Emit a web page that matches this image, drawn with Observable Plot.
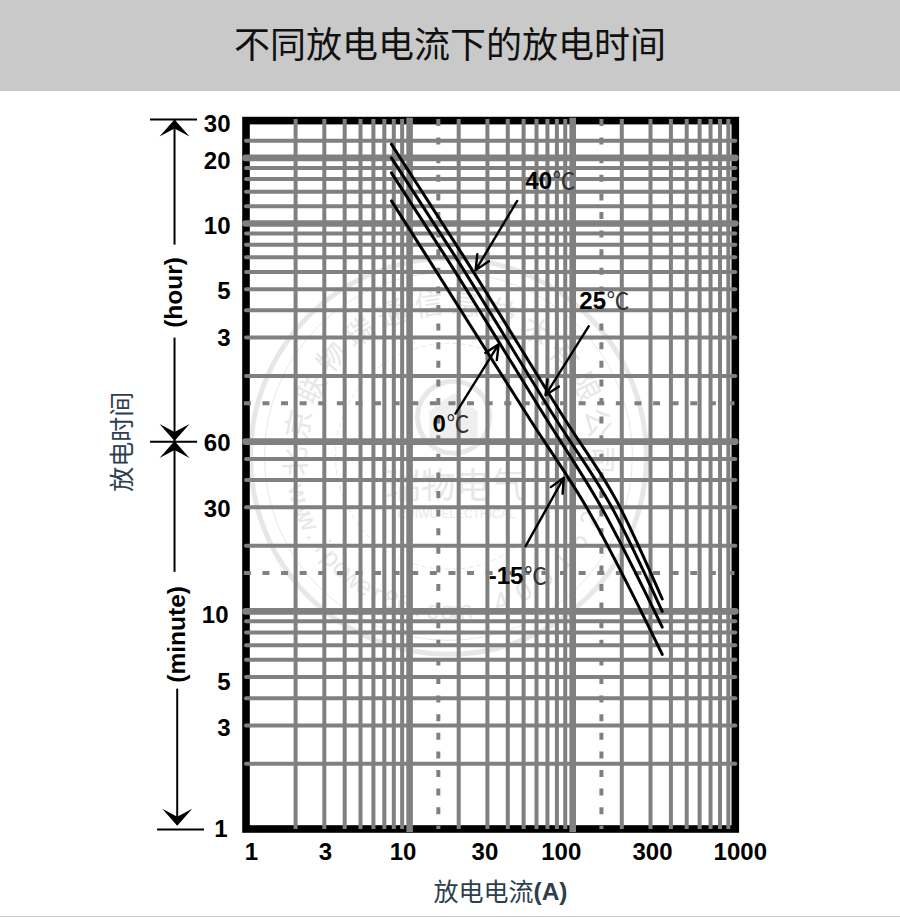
<!DOCTYPE html>
<html lang="zh">
<head>
<meta charset="utf-8">
<script src="https://cdn.jsdelivr.net/npm/d3@7"></script>
<script src="https://cdn.jsdelivr.net/npm/@observablehq/plot@0.6"></script>
<style>
  html,body{margin:0;padding:0;background:#fff;width:900px;height:917px;overflow:hidden}
  #head{height:91px;background:#c9c9c9;display:flex;align-items:center;justify-content:center;
        font:36px "Noto Sans CJK SC",sans-serif;color:#111;box-sizing:border-box;padding-bottom:8px}
  #chart svg{display:block}
  #foot{height:1px;background:#c9c9c9}
</style>
</head>
<body>
<div id="head">不同放电电流下的放电时间</div>
<div id="chart"></div>
<div id="foot"></div>
<script>
// ---- Data (current in A, time in minutes) ----
const xMajor = [10, 100];
const xMinor = [2,3,4,5,6,7,8,9,20,30,40,50,60,70,80,90,200,300,400,500,600,700,800,900];
const xDashed = [15, 150];
const yMajor = [1200, 600, 60, 10];
const yMinor = [1440,1080,960,840,720,540,480,420,360,300,240,180,120,50,40,30,20,9,8,7,6,5,4,3,2];
const yDashed = [90, 15];

const xTickValues = [1, 3, 10, 30, 100, 300, 1000];
const yTickValues = [1800, 1200, 600, 300, 180, 60, 30, 10, 5, 3, 1];
const yTickLabels = ["30","20","10","5","3","60","30","10","5","3","1"];

const amps40 = [7.74, 21.2, 90.3, 188, 354];
const mins40 = [1387, 430, 75.2, 31.6, 11.4];
const amps25 = [7.74, 18.8, 79.6, 175, 354];
const mins25 = [1200, 430, 75.2, 29.7, 10];
const amps0 = [7.74, 16.4, 69.8, 149.5, 354];
const mins0 = [1025, 430, 75.2, 30.1, 8.47];
const ampsM15 = [7.74, 12.6, 55.1, 121.5, 354];
const minsM15 = [762, 430, 75.2, 30, 6.35];

const calloutNames = ["40", "25", "0", "-15"];
const calloutAmps = [74.7, 160, 16.7, 49.9];
const calloutMins = [938, 264, 72.1, 14.5];
const arrowFromAmps = [45.7, 125.5, 19.1, 51.4];
const arrowFromMins = [762, 203, 80.7, 19.9];
const arrowToAmps = [25.4, 68.1, 35.2, 88.2];
const arrowToMins = [367, 98, 168, 41];

const sealName = "北京联物瑞通信息技术有限公司";
const sealUrl = "www.ipower86.com";
const sealPhone = "400162";
const sealBrand = "瑞物电气";
const sealBrandEn = "RUIWU ELECTRICAL";

// ---- Layout helpers (not data) ----
const xTickNudge = [5, 1, -6.5, -2.5, -11.5, 2, 4.5];
const yTickNudge = [5, 3, 2.6, 2, 0.5, 2, 2, 4, 5, 3, 0];
const yTickRight = [0,0,0,0,0,0,0,-2,0,0,-3];
const SANS = '"Liberation Sans",Arial,sans-serif';
const CJK = '"Noto Sans CJK SC",sans-serif';
const SERIF = '"Liberation Serif","Noto Sans CJK SC",serif';
const GREY = "#808080";
const WM = "#e7e7e7";
const axisColX = 0.362, axisColXLow = 0.376;     // x values of the left double-arrow column
const tickLabelX = 0.798;                         // x value of the right edge of y tick labels

const headUp = {draw(c){c.moveTo(0,0);c.lineTo(15,17);c.lineTo(0,9);c.lineTo(-15,17);c.closePath();}};
const headDown = {draw(c){c.moveTo(0,0);c.lineTo(15,-17);c.lineTo(0,-9);c.lineTo(-15,-17);c.closePath();}};
const house = {draw(c){c.moveTo(0,-24);c.lineTo(24,-6);c.lineTo(24,22);c.lineTo(-24,22);c.lineTo(-24,-6);c.closePath();}};

const seriesOf = (a, m) => a.map((v, i) => ({a: v, m: m[i]}));
const one = [0];

const sealCentre = {a: 17.3, m: 51.4};
const logoCentre = {a: 18.6, m: 77.6};
const wm = [];
// rings
wm.push(Plot.dot([sealCentre],{x:"a",y:"m",r:198,stroke:WM,strokeWidth:5,fill:"none"}));
wm.push(Plot.dot([sealCentre],{x:"a",y:"m",r:184,stroke:WM,strokeWidth:1,fill:"none"}));
wm.push(Plot.dot([sealCentre],{x:"a",y:"m",r:113,stroke:WM,strokeWidth:1,fill:"none",strokeDasharray:"5,3"}));
wm.push(Plot.dot([logoCentre],{x:"a",y:"m",r:36,stroke:WM,strokeWidth:5,fill:"none"}));
wm.push(Plot.dot([logoCentre],{x:"a",y:"m",r:1,symbol:house,fill:"#efefef",stroke:"none"}));
// arc of the company name
Array.from(sealName).forEach((ch,i)=>{
  const t = -92 + i*14.1, r = 152, rad = t*Math.PI/180;
  wm.push(Plot.text([ch],{x:()=>sealCentre.a,y:()=>sealCentre.m,text:d=>d,dx:r*Math.sin(rad),dy:-r*Math.cos(rad),
    rotate:t,fontSize:29,fontFamily:CJK,fill:WM}));
});
// arc of web address (reads along the bottom, left to right)
Array.from(sealUrl).forEach((ch,i)=>{
  const t = 76 - i*5.4, r = 155, rad = t*Math.PI/180;
  wm.push(Plot.text([ch],{x:()=>sealCentre.a,y:()=>sealCentre.m,text:d=>d,dx:-r*Math.sin(rad),dy:r*Math.cos(rad),
    rotate:t,fontSize:26,fontFamily:SANS,fill:WM}));
});
Array.from(sealPhone).forEach((ch,i)=>{
  const t = -20 - i*9.2, r = 155, rad = t*Math.PI/180;
  wm.push(Plot.text([ch],{x:()=>sealCentre.a,y:()=>sealCentre.m,text:d=>d,dx:-r*Math.sin(rad),dy:r*Math.cos(rad),
    rotate:t,fontSize:26,fontFamily:SANS,fill:WM}));
});
wm.push(Plot.text([sealBrand],{x:()=>sealCentre.a,y:()=>sealCentre.m,text:d=>d,dx:7,dy:30,fontSize:35,fontFamily:CJK,fill:WM}));
wm.push(Plot.text([sealBrandEn],{x:()=>sealCentre.a,y:()=>sealCentre.m,text:d=>d,dx:8,dy:58,fontSize:12,fontFamily:SANS,fill:WM,letterSpacing:"2.3px"}));

const curves = [[amps40,mins40],[amps25,mins25],[amps0,mins0],[ampsM15,minsM15]];
const callouts = calloutNames.map((n,i)=>({n,a:calloutAmps[i],m:calloutMins[i],
  a1:arrowFromAmps[i],m1:arrowFromMins[i],a2:arrowToAmps[i],m2:arrowToMins[i]}));

const plot = Plot.plot({
  width: 900,
  height: 825,
  margin: 0,
  style: {background: "transparent"},
  x: {type: "log", domain: [1, 1000], range: [246, 735.3], axis: null},
  y: {type: "log", domain: [1, 1800], range: [738, 28], axis: null},
  marks: [
    ...wm,
    // black frame
    Plot.rect(one,{x1:()=>1,x2:()=>1000,y1:()=>1,y2:()=>1770,fill:"none",stroke:"#000",strokeWidth:7.6}),
    // grid
    Plot.ruleX(xMinor,{x:d=>d,y1:()=>1,y2:()=>1800,stroke:GREY,strokeWidth:4}),
    Plot.ruleY(yMinor,{y:d=>d,x1:()=>1,x2:()=>1000,stroke:GREY,strokeWidth:4,strokeLinecap:"round"}),
    Plot.ruleX(xDashed,{x:d=>d,y1:()=>1800,y2:()=>1,stroke:GREY,strokeWidth:4,strokeDasharray:"7,11.6"}),
    Plot.ruleY(yDashed,{y:d=>d,x1:()=>0.97,x2:()=>1000,stroke:GREY,strokeWidth:4,strokeDasharray:"7,11.6"}),
    Plot.ruleX(xMajor,{x:d=>d,y1:()=>0.97,y2:()=>1826,stroke:GREY,strokeWidth:6.6}),
    Plot.ruleY(yMajor,{y:d=>d,x1:()=>0.993,x2:()=>1000,stroke:GREY,strokeWidth:6.6,strokeLinecap:"round"}),
    // curves
    ...curves.map(([a,m])=>Plot.line(seriesOf(a,m),{x:"a",y:"m",curve:"monotone-x",stroke:"#000",strokeWidth:3,strokeLinecap:"round"})),
    // callout arrows
    Plot.arrow(callouts,{x1:"a1",y1:"m1",x2:"a2",y2:"m2",stroke:"#000",strokeWidth:2.4,headLength:10,headAngle:50}),
    Plot.text(callouts,{x:"a",y:"m",text:"n",textAnchor:"end",fontFamily:SANS,fontWeight:"bold",fontSize:24,fill:"#000"}),
    Plot.text(callouts,{x:"a",y:"m",text:()=>"℃",textAnchor:"start",fontFamily:SERIF,fontSize:23,fill:"#333",dx:0.5}),
    // tick labels
    ...xTickValues.map((v,i)=>Plot.text([v],{x:d=>d,y:()=>1,text:d=>String(d),dx:xTickNudge[i],dy:23,
      fontFamily:SANS,fontWeight:"bold",fontSize:24,fill:"#000"})),
    ...yTickValues.map((v,i)=>Plot.text([v],{x:()=>tickLabelX,y:d=>d,text:()=>yTickLabels[i],dy:yTickNudge[i],dx:yTickRight[i],
      textAnchor:"end",fontFamily:SANS,fontWeight:"bold",fontSize:24,fill:"#000"})),
    // axis titles
    Plot.text(["放电电流"],{x:()=>57.5,y:()=>1,text:d=>d,dy:63,textAnchor:"end",fontFamily:CJK,fontSize:25,fill:"#2d3e4c"}),
    Plot.text(["(A)"],{x:()=>57.5,y:()=>1,text:d=>d,dy:63,textAnchor:"start",fontFamily:SANS,fontWeight:"bold",fontSize:24.5,fill:"#2d3e4c"}),
    Plot.text(["放电时间"],{x:()=>0.174,y:()=>60,text:d=>d,rotate:-90,fontFamily:CJK,fontSize:25,fill:"#2d3e4c"}),
    // double-arrow bracket
    Plot.ruleY([1800,60],{y:d=>d,x1:()=>0.258,x2:()=>0.501,stroke:"#000",strokeWidth:2}),
    Plot.ruleY([1],{y:d=>d,x1:()=>0.285,x2:()=>0.553,stroke:"#000",strokeWidth:2}),
    Plot.ruleX([axisColX],{x:d=>d,y1:()=>1800,y2:()=>478,stroke:"#000",strokeWidth:2}),
    Plot.ruleX([axisColX],{x:d=>d,y1:()=>179,y2:()=>60,stroke:"#000",strokeWidth:2}),
    Plot.ruleX([axisColX],{x:d=>d,y1:()=>60,y2:()=>15.1,stroke:"#000",strokeWidth:2}),
    Plot.ruleX([axisColXLow],{x:d=>d,y1:()=>4.4,y2:()=>1.05,stroke:"#000",strokeWidth:2}),
    Plot.dot([{a:axisColX,m:1800},{a:axisColX,m:60.5}],{x:"a",y:"m",r:1,symbol:headUp,fill:"#000",stroke:"none"}),
    Plot.dot([{a:axisColX,m:60.5},{a:axisColXLow,m:1.04}],{x:"a",y:"m",r:1,symbol:headDown,fill:"#000",stroke:"none"}),
    Plot.text(["(hour)"],{x:()=>axisColX,y:()=>290,text:d=>d,rotate:-90,fontFamily:SANS,fontWeight:"bold",fontSize:24.5,fill:"#000"}),
    Plot.text(["(minute)"],{x:()=>axisColXLow,y:()=>7.85,text:d=>d,rotate:-90,fontFamily:SANS,fontWeight:"bold",fontSize:24.5,fill:"#000"})
  ]
});
document.getElementById("chart").append(plot);
</script>
</body>
</html>
